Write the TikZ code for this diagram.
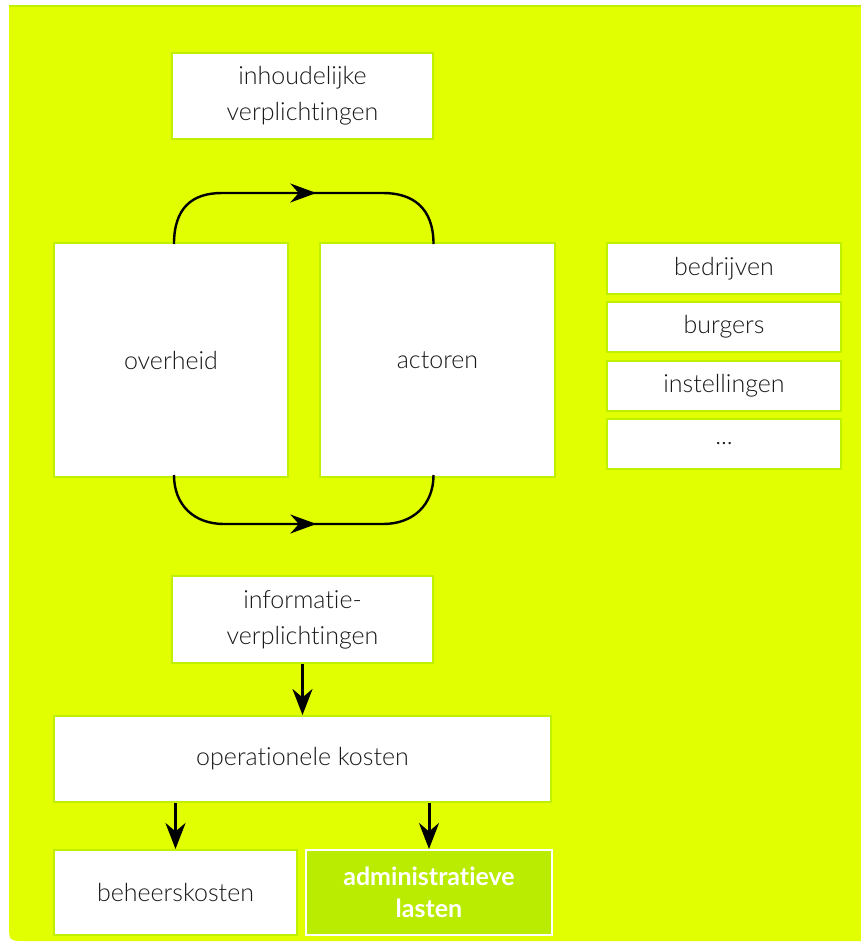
\documentclass[tikz,border=0pt]{standalone}
\usepackage{fontspec}
\setmainfont{Lato}[UprightFont={* Light}, BoldFont={* Bold}, Ligatures={NoCommon}]
\usetikzlibrary{arrows.meta,decorations.markings}
\definecolor{bg}{RGB}{225,255,0}
\definecolor{edgegreen}{RGB}{190,240,0}
\definecolor{admfill}{RGB}{185,236,0}
\begin{document}
\begin{tikzpicture}[x=1pt,y=-1pt,
  box/.style={draw=edgegreen, line width=2pt, fill=white, inner sep=0pt, align=center,
    font=\fontsize{25}{36}\selectfont, text=black!90},
  conn/.style={line width=3pt, -{Stealth[length=26pt,width=20pt]}},
  flow/.style={line width=2.4pt, postaction={decorate},
    decoration={markings, mark=at position 0.54 with {\arrow{Stealth[length=26pt,width=19pt]}}}}
]
\useasboundingbox (0,0) rectangle (861,945);
\fill[white] (0,0) rectangle (861,945);
\fill[bg] (861,5) -- (9,5) -- (9,924) .. controls (9,941) .. (26,941) -- (861,941) -- cycle;
\draw[edgegreen, line width=2pt] (9,6) -- (861,6);

\node[box, minimum width=261pt, minimum height=86pt] (inh) at (302.5,96) {inhoudelijke\\verplichtingen};
\node[box, minimum width=234pt, minimum height=234pt] (ov) at (171,360) {overheid};
\node[box, minimum width=235pt, minimum height=234pt] (act) at (437.5,360) {actoren};
\node[box, minimum width=234pt, minimum height=51pt] (bed) at (724,268.5) {bedrijven};
\node[box, minimum width=234pt, minimum height=50pt] (bur) at (724,327) {burgers};
\node[box, minimum width=234pt, minimum height=50pt] (ins) at (724,386) {instellingen};
\node[box, minimum width=234pt, minimum height=50pt] (etc) at (724,444) {...};
\node[box, minimum width=261pt, minimum height=87pt] (info) at (302.5,619.5) {informatie-\\verplichtingen};
\node[box, minimum width=497pt, minimum height=86pt] (op) at (302.5,759) {operationele kosten};
\node[box, minimum width=243pt, minimum height=85pt] (beh) at (175.5,892.5) {beheerskosten};
\node[box, draw=white, fill=admfill, text=white, font=\bfseries\fontsize{25}{32}\selectfont,
  minimum width=246pt, minimum height=85pt] (adm) at (429,892.5) {administratieve\\lasten};

\coordinate (t1) at (222,193);
\coordinate (t2) at (383,193);
\coordinate (b1) at (224,524);
\coordinate (b2) at (383,524);

\draw[flow] ([xshift=3pt,yshift=-2pt]ov.north) .. controls +(0,-36) and +(-30,0) .. (t1) -- (t2)
  .. controls +(30,0) and +(0,-36) .. ([xshift=-4pt,yshift=-2pt]act.north);
\draw[flow] ([xshift=3pt,yshift=3pt]ov.south) .. controls +(0,30) and +(-30,0) .. (b1) -- (b2)
  .. controls +(30,0) and +(0,30) .. ([xshift=-4pt,yshift=3pt]act.south);

\draw[conn] (info.south) -- (op.north);
\draw[conn] (op.south -| beh.north) -- (beh.north);
\draw[conn] (op.south -| adm.north) -- (adm.north);
\end{tikzpicture}
\end{document}
